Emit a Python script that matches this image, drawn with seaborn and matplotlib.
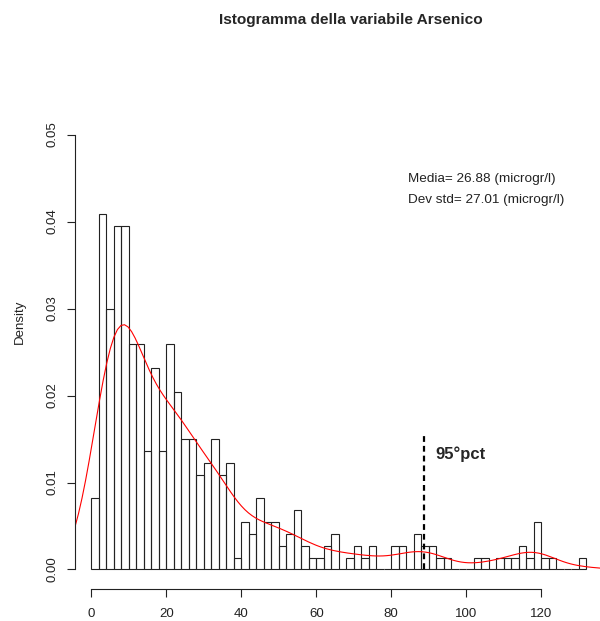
import numpy as np
import pandas as pd
import matplotlib
matplotlib.use("Agg")
import matplotlib.pyplot as plt
import seaborn as sns

# histogram: bins of width 2, counts per bin
bin_edges = list(range(0, 134, 2))
bin_counts = [6, 30, 22, 29, 29, 19, 19, 10, 17, 10, 19, 15, 11, 11, 8, 9, 11, 8, 9, 1, 4, 3, 6,
              4, 4, 2, 3, 5, 2, 1, 1, 2, 3, 0, 1, 2, 1, 2, 0, 0, 2, 2, 0, 3, 2,
              2, 1, 1, 0, 0, 0, 1, 1, 0, 1, 1, 1, 2, 1, 4, 1, 1, 0, 0, 0, 1]
x_ticks = [0, 20, 40, 60, 80, 100, 120]
y_ticks = [0.00, 0.01, 0.02, 0.03, 0.04, 0.05]
media = 26.88
dev_std = 27.01
pct95 = 88.7

edges = np.array(bin_edges, dtype=float)
centers = (edges[:-1] + edges[1:]) / 2
df = pd.DataFrame({"arsenico": centers, "n": bin_counts})

# R-style bandwidth (bw.nrd0) on the binned values
vals = np.repeat(centers, bin_counts)
sd = vals.std(ddof=1)
iqr = np.subtract(*np.percentile(vals, [75, 25]))
bw_factor = 0.9 * min(sd, iqr / 1.34) / sd * len(vals) ** -0.2

sns.set_style("ticks")
plt.rcParams["font.family"] = ["Liberation Sans", "DejaVu Sans"]

fig = plt.figure(figsize=(6, 6.21), dpi=100)
ax = fig.add_axes([0.1255, 0.0510, 0.919, 0.8625])

sns.histplot(data=df, x="arsenico", weights="n", bins=bin_edges, stat="density",
             fill=False, color="#222222", linewidth=0.8, ax=ax)
sns.kdeplot(data=df, x="arsenico", weights="n", bw_method=bw_factor, cut=4,
            color="red", linewidth=0.8, ax=ax)

ax.plot([pct95, pct95], [0, 0.0157], color="black", linewidth=1.6,
        linestyle=(0, (2.6, 1.8)))
ax.text(91.7, 0.0133, "95°pct", fontsize=12, fontweight="bold", va="center", ha="left")
ax.text(84.4, 0.0449, f"Media= {media:.2f} (microgr/l)", fontsize=9.7, va="center",
        ha="left", color="#222222")
ax.text(84.4, 0.0425, f"Dev std= {dev_std:.2f} (microgr/l)", fontsize=9.7, va="center",
        ha="left", color="#222222")

ax.set_xlim(-4.27, 142.8)
ax.set_ylim(-0.00228, 0.0593)
ax.set_xticks(x_ticks)
ax.set_xticklabels([str(t) for t in x_ticks])
ax.set_yticks(y_ticks)
ax.set_yticklabels([f"{t:.2f}" for t in y_ticks], rotation=90, va="center")
ax.set_xlabel("")
ax.set_ylabel("Density", fontsize=9.5, labelpad=15, color="#222222")

sns.despine(ax=ax)
ax.spines["left"].set_bounds(0, 0.05)
ax.spines["bottom"].set_bounds(0, 120)
for sp in ("left", "bottom"):
    ax.spines[sp].set_linewidth(0.8)
    ax.spines[sp].set_color("#222222")
ax.tick_params(axis="both", length=5.8, width=0.8, color="#222222",
               labelsize=9.5, labelcolor="#222222")
ax.tick_params(axis="x", pad=8)
ax.tick_params(axis="y", pad=6)
ax.grid(False)

fig.text(351 / 600, 1 - 20 / 621, "Istogramma della variabile Arsenico",
         ha="center", va="center", fontsize=11.1, fontweight="bold")

fig.savefig("out.png", dpi=100)
